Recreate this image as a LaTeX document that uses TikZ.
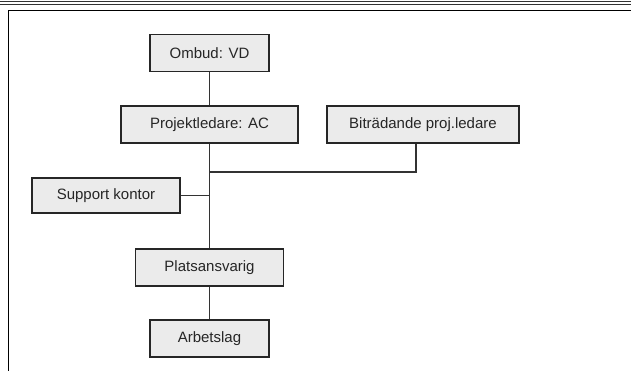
\documentclass[tikz,border=0pt]{standalone}
\usepackage{fontspec}
\setmainfont{Liberation Sans}
\begin{document}
\begin{tikzpicture}[x=1pt,y=-1pt,
  orgbox/.style={draw=black!85, line width=1.6pt, fill=black!8, inner sep=0pt, font=\fontsize{15}{18}\selectfont, text=black!85},
  conn/.style={draw=black!80, line width=1.3pt}]
\useasboundingbox (0,0) rectangle (631,371);
\fill[white] (0,0) rectangle (631,371);
% top double rule
\draw[line width=0.9pt, black!80] (0,1.2) -- (631,1.2);
\draw[line width=0.9pt, black!80] (0,4) -- (631,4);
% frame
\draw[line width=1.8pt, black] (8.5,375) -- (8.5,10.5) -- (640,10.5);
% boxes
\node[orgbox, minimum width=119pt, minimum height=37pt] (vd) at (209.5,53) {Ombud: VD};
\node[orgbox, minimum width=177pt, minimum height=37pt] (pl) at (209.5,124.5) {Projektledare: AC};
\node[orgbox, minimum width=192pt, minimum height=37pt] (bpl) at (423,124.5) {Biträdande proj.ledare};
\node[orgbox, minimum width=148pt, minimum height=35pt] (sk) at (106,195.5) {Support kontor};
\node[orgbox, minimum width=148pt, minimum height=37pt] (ps) at (209.5,267.5) {Platsansvarig};
\node[orgbox, minimum width=119pt, minimum height=37pt] (ar) at (209.5,338.5) {Arbetslag};
% connectors
\coordinate (j1) at (209.5,172);
\coordinate (j2) at (209.5,195.5);
\draw[conn] (vd.south) -- (pl.north);
\draw[conn] (pl.south) -- (ps.north);
\draw[conn] (bpl.south -| 416,0) |- (j1);
\draw[conn] (sk.east) -- (j2);
\draw[conn] (ps.south) -- (ar.north);
\end{tikzpicture}
\end{document}
